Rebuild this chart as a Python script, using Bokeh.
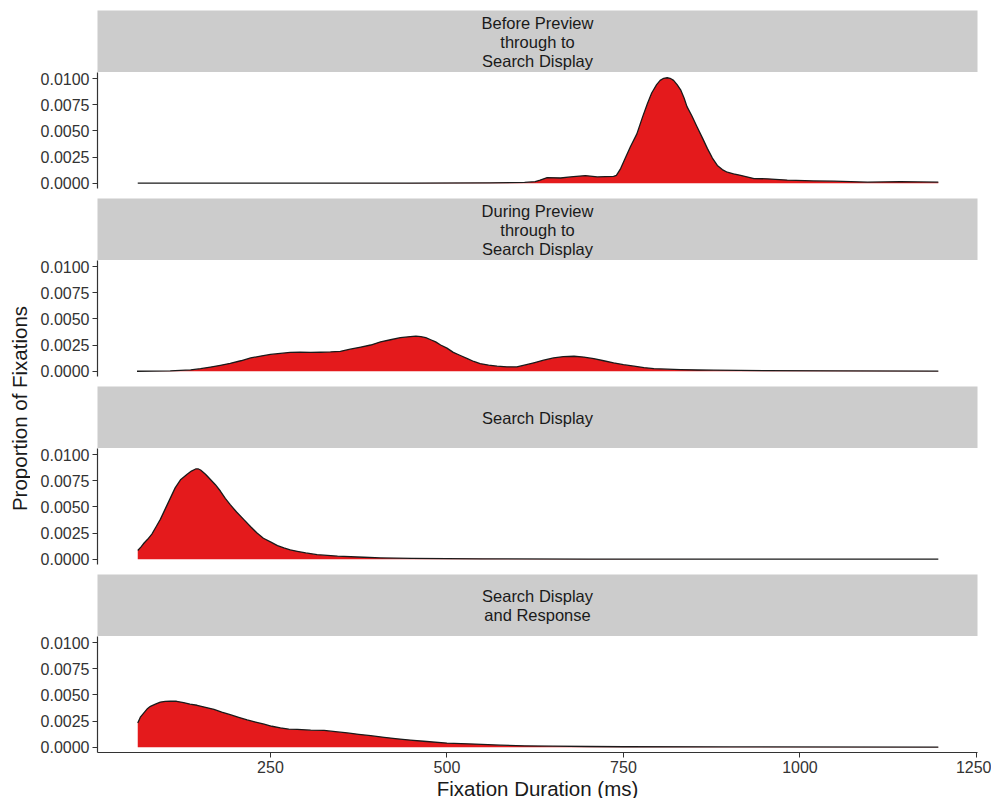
import math

from bokeh.core.properties import value
from bokeh.embed import file_html
from bokeh.layouts import column, row
from bokeh.models import FixedTicker, PrintfTickFormatter, Range1d
from bokeh.plotting import figure
from bokeh.resources import INLINE

FONT = "Liberation Sans"

# Facet labels (strip texts), top to bottom
panel_titles = [
    "Before Preview\nthrough to\nSearch Display",
    "During Preview\nthrough to\nSearch Display",
    "Search Display",
    "Search Display\nand Response",
]

# Density estimates of fixation duration (ms) for each phase
before_x = [62, 150, 300, 450, 560, 610, 625, 632, 642, 661, 675, 696, 713, 736,
            740, 746, 752, 760, 769, 777, 784, 790, 797, 802, 807, 812, 816, 821,
            826, 831, 836, 840, 847, 854, 862, 869, 876, 883, 890, 897, 906, 916,
            935, 954, 982, 1019, 1048, 1096, 1142, 1196]
before_y = [0.00001, 0.00001, 0.00001, 0.00002, 0.00004, 0.00008, 0.00015, 0.0003,
            0.00054, 0.0005, 0.0006, 0.00073, 0.0006, 0.00066, 0.00075, 0.0014,
            0.0023, 0.0035, 0.0047, 0.0063, 0.0076, 0.0086, 0.0094, 0.0098, 0.0100,
            0.01005, 0.0100, 0.0098, 0.0094, 0.0089, 0.0081, 0.0073, 0.0064, 0.0054,
            0.0043, 0.0033, 0.0024, 0.0017, 0.0013, 0.00105, 0.0009, 0.00076,
            0.00045, 0.00042, 0.0003, 0.00022, 0.0002, 0.0001, 0.00015, 0.0001]

during_x = [61, 108, 137, 151, 165, 179, 193, 208, 222, 236, 250, 264, 278, 292,
            307, 321, 335, 349, 363, 378, 392, 406, 420, 434, 448, 456, 463, 470,
            477, 484, 491, 500, 509, 519, 529, 538, 547, 559, 571, 585, 599, 611,
            623, 637, 651, 665, 680, 694, 708, 722, 736, 750, 765, 779, 793, 812,
            831, 855, 878, 950, 1050, 1196]
during_y = [0.0, 0.00003, 0.00013, 0.00025, 0.0004, 0.00057, 0.00076, 0.001, 0.00127,
            0.00145, 0.0016, 0.0017, 0.0018, 0.00183, 0.0018, 0.00181, 0.00184,
            0.0019, 0.0021, 0.0023, 0.0025, 0.0028, 0.0030, 0.0032, 0.0033, 0.00335,
            0.0033, 0.0032, 0.0030, 0.0028, 0.0025, 0.0022, 0.0018, 0.0015, 0.0012,
            0.00093, 0.00073, 0.00058, 0.00048, 0.00042, 0.00041, 0.0006, 0.0008,
            0.00105, 0.00127, 0.0014, 0.00143, 0.00135, 0.0012, 0.001, 0.0008,
            0.00063, 0.00048, 0.00035, 0.00025, 0.0002, 0.00016, 0.00012, 0.0001,
            0.00006, 0.00004, 0.00002]

search_x = [62, 67, 71, 76, 82, 88, 94, 101, 108, 115, 123, 132, 138, 144, 148, 151,
            158, 165, 172, 179, 186, 193, 202, 212, 222, 231, 240, 250, 260, 269,
            278, 288, 300, 316, 345, 382, 406, 450, 550, 700, 900, 1196]
search_y = [0.00083, 0.0012, 0.00155, 0.0019, 0.0024, 0.0031, 0.0038, 0.0048, 0.0058,
            0.0068, 0.0076, 0.0081, 0.0084, 0.0086, 0.0086, 0.0085, 0.0081, 0.0076,
            0.0071, 0.0065, 0.0058, 0.0052, 0.0045, 0.0038, 0.0031, 0.0025, 0.0020,
            0.00165, 0.0013, 0.00108, 0.0009, 0.00076, 0.0006, 0.00044, 0.00029,
            0.00019, 0.00013, 0.00008, 0.00004, 0.00002, 0.00001, 0.00001]

response_x = [62, 66, 71, 76, 80, 87, 94, 101, 108, 117, 127, 136, 146, 158, 170,
              181, 193, 205, 217, 229, 241, 252, 264, 276, 288, 307, 326, 342, 359,
              375, 392, 411, 430, 448, 467, 500, 540, 576, 610, 650, 700, 750, 900,
              1196]
response_y = [0.0023, 0.0029, 0.0033, 0.0037, 0.0039, 0.0041, 0.0043, 0.00437, 0.0044,
              0.00438, 0.00426, 0.0041, 0.0040, 0.0038, 0.0036, 0.00335, 0.0031,
              0.00285, 0.0026, 0.0024, 0.0022, 0.0020, 0.00185, 0.00172, 0.0017,
              0.00163, 0.0016, 0.00148, 0.00136, 0.00123, 0.0011, 0.00095, 0.0008,
              0.00068, 0.00057, 0.0004, 0.0003, 0.0002, 0.00014, 0.0001, 0.00007,
              0.00005, 0.00003, 0.00002]

series = [(before_x, before_y), (during_x, during_y),
          (search_x, search_y), (response_x, response_y)]

x_ticks = [250, 500, 750, 1000, 1250]
y_ticks = [0.0, 0.0025, 0.005, 0.0075, 0.01]

# Layout constants (pixels)
YLAB_W = 30
BORDER_L = 67
BORDER_R = 14
FRAME_W = 880
STRIP_H = 62
PANEL_H = 116
GAP = 10
TOP = 10
BOTTOM = 46
TOTAL_H = TOP + 4 * (STRIP_H + PANEL_H) + 3 * GAP + BOTTOM

FILL = "#E41A1C"
AXIS_COL = "#333333"
TEXT_COL = "#1A1A1A"
TICK_SIZE = "16px"
STRIP_SIZE = "16.5px"
LARGE = "20.5px"


def strip_figure(label, top):
    s = figure(frame_width=FRAME_W, frame_height=STRIP_H,
               min_border_left=BORDER_L, min_border_right=BORDER_R,
               min_border_top=top, min_border_bottom=0,
               x_range=Range1d(0, FRAME_W), y_range=Range1d(0, STRIP_H),
               x_axis_location=None, y_axis_location=None,
               toolbar_location=None, output_backend="svg",
               background_fill_color="#CCCCCC", outline_line_color=None)
    s.xgrid.visible = False
    s.ygrid.visible = False
    lines = label.split("\n")
    n = len(lines)
    pitch = 19
    ys = [STRIP_H / 2 + (n - 1) / 2 * pitch - i * pitch for i in range(n)]
    s.text(x=[FRAME_W / 2] * n, y=ys, text=lines,
           text_align="center", text_baseline="middle",
           text_font=value(FONT), text_font_size=STRIP_SIZE, text_color=TEXT_COL)
    return s


def panel_figure(xs, ys, bottom):
    p = figure(frame_width=FRAME_W, frame_height=PANEL_H,
               min_border_left=BORDER_L, min_border_right=BORDER_R,
               min_border_top=0, min_border_bottom=BOTTOM if bottom else GAP,
               x_range=Range1d(5, 1251.5), y_range=Range1d(-0.0005, 0.01055),
               x_axis_location="below" if bottom else None,
               toolbar_location=None, output_backend="svg",
               outline_line_color=None)
    p.xgrid.visible = False
    p.ygrid.visible = False

    p.varea(x=xs, y1=[0.0] * len(xs), y2=ys, fill_color=FILL, fill_alpha=1.0)
    p.line(x=xs, y=ys, line_color=TEXT_COL, line_width=1.3, line_join="round")

    yax = p.yaxis[0]
    yax.ticker = FixedTicker(ticks=y_ticks)
    yax.formatter = PrintfTickFormatter(format="%.4f")
    yax.axis_line_color = AXIS_COL
    yax.axis_line_width = 1.2
    yax.major_tick_line_color = AXIS_COL
    yax.major_tick_out = 5
    yax.major_tick_in = 0
    yax.minor_tick_line_color = None
    yax.major_label_standoff = 3
    yax.major_label_text_font = FONT
    yax.major_label_text_font_size = TICK_SIZE
    yax.major_label_text_color = AXIS_COL

    if bottom:
        xax = p.xaxis[0]
        xax.ticker = FixedTicker(ticks=x_ticks)
        xax.axis_line_color = AXIS_COL
        xax.axis_line_width = 1.2
        xax.major_tick_line_color = AXIS_COL
        xax.major_tick_out = 5
        xax.major_tick_in = 0
        xax.minor_tick_line_color = None
        xax.major_label_standoff = 3
        xax.major_label_text_font = FONT
        xax.major_label_text_font_size = TICK_SIZE
        xax.major_label_text_color = AXIS_COL
        xax.axis_label = "Fixation Duration (ms)"
        xax.axis_label_standoff = 1
        xax.axis_label_text_font = FONT
        xax.axis_label_text_font_size = LARGE
        xax.axis_label_text_font_style = "normal"
        xax.axis_label_text_color = TEXT_COL
    return p


facets = []
for i, (title, (xs, ys)) in enumerate(zip(panel_titles, series)):
    facets.append(strip_figure(title, TOP if i == 0 else 0))
    facets.append(panel_figure(xs, ys, i == len(series) - 1))

# Shared y-axis title on the left
ylab = figure(frame_width=YLAB_W, frame_height=TOTAL_H, min_border=0,
              x_range=Range1d(0, YLAB_W), y_range=Range1d(0, TOTAL_H),
              x_axis_location=None, y_axis_location=None,
              toolbar_location=None, output_backend="svg",
              outline_line_color=None)
ylab.xgrid.visible = False
ylab.ygrid.visible = False
ylab.text(x=[19], y=[TOTAL_H - 408], text=["Proportion of Fixations"],
          angle=math.pi / 2, text_align="center", text_baseline="middle",
          text_font=value(FONT), text_font_size=LARGE, text_color=TEXT_COL)

layout = row(ylab, column(*facets, spacing=0), spacing=0)

with open("out.html", "w") as f:
    f.write(file_html(layout, INLINE, title="Fixation Duration"))
